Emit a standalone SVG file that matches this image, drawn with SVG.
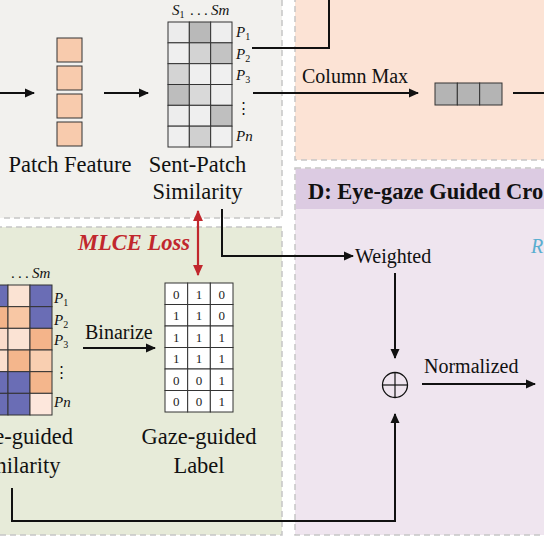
<svg xmlns="http://www.w3.org/2000/svg" width="544" height="544" viewBox="0 0 544 544">
<defs>
<style>
.panel{stroke:#c6c6c6;stroke-width:1.5;stroke-dasharray:6 4}
.t{font-family:"Liberation Serif","Times New Roman",serif;fill:#111}
.lbl{font-size:22.5px}
.sm{font-size:20px}
.it{font-style:italic}
.cell{stroke:#333;stroke-width:1}
.num{font-family:"Liberation Serif",serif;font-size:13px;fill:#222;text-anchor:middle}
.conn{fill:none;stroke:#111;stroke-width:2}
</style>
<marker id="ah" viewBox="0 0 10 10" refX="9" refY="5" markerWidth="5" markerHeight="5" orient="auto" markerUnits="strokeWidth">
<path d="M0,0.5 L10,5 L0,9.5 z" fill="#111"/>
</marker>
<marker id="rh" viewBox="0 0 10 10" refX="9" refY="5" markerWidth="5" markerHeight="5" orient="auto-start-reverse" markerUnits="strokeWidth">
<path d="M0,0.5 L10,5 L0,9.5 z" fill="#c1272d"/>
</marker>
</defs>
<rect width="544" height="544" fill="#ffffff"/>

<g id="panels">
<rect id="panel-a" class="panel" x="-4" y="-4" width="286" height="222" fill="#f2f1ee"/>
<rect id="panel-c" class="panel" x="295" y="-4" width="254" height="164" fill="#fce3d5"/>
<g id="panel-d">
<rect class="panel" x="295" y="168" width="254" height="367" fill="#efe5ef"/>
<rect x="296" y="169" width="250" height="40" fill="#dccbe2"/>
<text class="t" x="308" y="199" style="font-size:22.5px;font-weight:bold">D: Eye-gaze Guided Cro</text>
<text class="t it sm" x="531" y="253" style="fill:#5aaed0">R</text>
</g>
<rect id="panel-b" class="panel" x="-4" y="227" width="286" height="308" fill="#e7ebd9"/>
</g>

<g id="connectors">
<line class="conn" x1="0" y1="93" x2="34" y2="93" marker-end="url(#ah)"/>
<line class="conn" x1="104" y1="93" x2="148" y2="93" marker-end="url(#ah)"/>
<polyline class="conn" points="252,48 329,48 329,-2"/>
<line class="conn" x1="253" y1="93" x2="418" y2="93" marker-end="url(#ah)"/>
<line class="conn" x1="513" y1="93" x2="546" y2="93"/>
<polyline class="conn" points="222,209 222,256 353,256" marker-end="url(#ah)"/>
<line class="conn" x1="395" y1="273" x2="395" y2="358" marker-end="url(#ah)"/>
<polyline class="conn" points="12,488 12,521 395,521 395,414" marker-end="url(#ah)"/>
<line class="conn" x1="83" y1="348" x2="155" y2="348" marker-end="url(#ah)"/>
<line class="conn" x1="422" y1="384" x2="535" y2="384" marker-end="url(#ah)"/>
<line x1="198" y1="211" x2="198" y2="275" stroke="#c1272d" stroke-width="2.2" marker-start="url(#rh)" marker-end="url(#rh)"/>
<text class="t" x="190" y="250" text-anchor="end" style="font-size:22.5px;font-weight:bold;font-style:italic;fill:#c1272d">MLCE Loss</text>
<text class="t sm" x="302" y="83">Column Max</text>
<text class="t sm" x="355" y="263">Weighted</text>
<text class="t sm" x="424" y="373">Normalized</text>
<text class="t sm" x="85" y="339">Binarize</text>
</g>

<g id="patch-feature">
<rect class="cell" x="57" y="38" width="25" height="24" fill="#f8cbad" stroke-width="1.5"/>
<rect class="cell" x="57" y="66" width="25" height="24" fill="#f8cbad" stroke-width="1.5"/>
<rect class="cell" x="57" y="94" width="25" height="24" fill="#f8cbad" stroke-width="1.5"/>
<rect class="cell" x="57" y="122" width="25" height="24" fill="#f8cbad" stroke-width="1.5"/>
<text class="t lbl" x="70" y="172" text-anchor="middle">Patch Feature</text>
</g>

<g id="sent-patch-similarity">
<g class="cell">
<rect x="168" y="22" width="21.33" height="20.83" fill="#ececec"/>
<rect x="189.33" y="22" width="21.33" height="20.83" fill="#b9b9b9"/>
<rect x="210.67" y="22" width="21.33" height="20.83" fill="#eeeeee"/>
<rect x="168" y="42.83" width="21.33" height="20.83" fill="#efefef"/>
<rect x="189.33" y="42.83" width="21.33" height="20.83" fill="#d3d3d3"/>
<rect x="210.67" y="42.83" width="21.33" height="20.83" fill="#c3c3c3"/>
<rect x="168" y="63.67" width="21.33" height="20.83" fill="#d4d4d4"/>
<rect x="189.33" y="63.67" width="21.33" height="20.83" fill="#efefef"/>
<rect x="210.67" y="63.67" width="21.33" height="20.83" fill="#f0f0f0"/>
<rect x="168" y="84.5" width="21.33" height="20.83" fill="#bdbdbd"/>
<rect x="189.33" y="84.5" width="21.33" height="20.83" fill="#d9d9d9"/>
<rect x="210.67" y="84.5" width="21.33" height="20.83" fill="#eeeeee"/>
<rect x="168" y="105.33" width="21.33" height="20.83" fill="#ededed"/>
<rect x="189.33" y="105.33" width="21.33" height="20.83" fill="#efefef"/>
<rect x="210.67" y="105.33" width="21.33" height="20.83" fill="#bfbfbf"/>
<rect x="168" y="126.17" width="21.33" height="20.83" fill="#efefef"/>
<rect x="189.33" y="126.17" width="21.33" height="20.83" fill="#d0d0d0"/>
<rect x="210.67" y="126.17" width="21.33" height="20.83" fill="#f0f0f0"/>
</g>
<text class="t" y="15" style="font-size:15px"><tspan x="172" font-style="italic">S</tspan><tspan font-size="10" dy="3">1</tspan><tspan x="190" dy="-3">.</tspan><tspan x="197">.</tspan><tspan x="204">.</tspan><tspan x="211" font-style="italic">Sm</tspan></text>
<g class="t it" style="font-size:15px">
<text x="236" y="37">P<tspan font-size="10" font-style="normal" dy="3">1</tspan></text>
<text x="236" y="59">P<tspan font-size="10" font-style="normal" dy="3">2</tspan></text>
<text x="236" y="80">P<tspan font-size="10" font-style="normal" dy="3">3</tspan></text>
<text x="236" y="141">Pn</text>
</g>
<text class="t" x="243" y="113" text-anchor="middle" style="font-family:'DejaVu Serif',serif;font-size:15px">⋮</text>
<text class="t lbl" x="197.5" y="172" text-anchor="middle">Sent-Patch</text>
<text class="t lbl" x="197.5" y="199" text-anchor="middle">Similarity</text>
</g>

<g id="column-max">
<rect class="cell" x="435" y="83" width="22.33" height="22" fill="#b4b4b4" stroke="#555"/>
<rect class="cell" x="457.33" y="83" width="22.33" height="22" fill="#b4b4b4" stroke="#555"/>
<rect class="cell" x="479.67" y="83" width="22.33" height="22" fill="#b4b4b4" stroke="#555"/>
</g>

<g id="gaze-guided-similarity">
<g class="cell" stroke="#2a2a4a">
<rect x="-14" y="285" width="22" height="21.67" fill="#6a6db5"/>
<rect x="8" y="285" width="22" height="21.67" fill="#fbe3d3"/>
<rect x="30" y="285" width="22" height="21.67" fill="#6a6db5"/>
<rect x="-14" y="306.67" width="22" height="21.67" fill="#f3b48a"/>
<rect x="8" y="306.67" width="22" height="21.67" fill="#f8c7a4"/>
<rect x="30" y="306.67" width="22" height="21.67" fill="#6a6db5"/>
<rect x="-14" y="328.33" width="22" height="21.67" fill="#fbdccb"/>
<rect x="8" y="328.33" width="22" height="21.67" fill="#fbe3d4"/>
<rect x="30" y="328.33" width="22" height="21.67" fill="#f4b48a"/>
<rect x="-14" y="350" width="22" height="21.67" fill="#fbdfcd"/>
<rect x="8" y="350" width="22" height="21.67" fill="#f4b68c"/>
<rect x="30" y="350" width="22" height="21.67" fill="#f9cfb1"/>
<rect x="-14" y="371.67" width="22" height="21.67" fill="#6a6db5"/>
<rect x="8" y="371.67" width="22" height="21.67" fill="#6a6db5"/>
<rect x="30" y="371.67" width="22" height="21.67" fill="#f4b68c"/>
<rect x="-14" y="393.33" width="22" height="21.67" fill="#6a6db5"/>
<rect x="8" y="393.33" width="22" height="21.67" fill="#6a6db5"/>
<rect x="30" y="393.33" width="22" height="21.67" fill="#fde7dc"/>
</g>
<text class="t" y="278" style="font-size:15px"><tspan x="11">.</tspan><tspan x="18">.</tspan><tspan x="25">.</tspan><tspan x="32" font-style="italic">Sm</tspan></text>
<g class="t it" style="font-size:15px">
<text x="54" y="303">P<tspan font-size="10" font-style="normal" dy="3">1</tspan></text>
<text x="54" y="325">P<tspan font-size="10" font-style="normal" dy="3">2</tspan></text>
<text x="54" y="345">P<tspan font-size="10" font-style="normal" dy="3">3</tspan></text>
<text x="54" y="407">Pn</text>
</g>
<text class="t" x="61" y="377" text-anchor="middle" style="font-family:'DejaVu Serif',serif;font-size:15px">⋮</text>
<text class="t lbl" x="15.5" y="444" text-anchor="middle">Gaze-guided</text>
<text class="t lbl" x="15.5" y="473" text-anchor="middle">Similarity</text>
</g>

<g id="gaze-guided-label">
<g class="cell" fill="#ffffff">
<rect x="165" y="283" width="22.67" height="21.5"/>
<rect x="187.67" y="283" width="22.67" height="21.5"/>
<rect x="210.33" y="283" width="22.67" height="21.5"/>
<rect x="165" y="304.5" width="22.67" height="21.5"/>
<rect x="187.67" y="304.5" width="22.67" height="21.5"/>
<rect x="210.33" y="304.5" width="22.67" height="21.5"/>
<rect x="165" y="326" width="22.67" height="21.5"/>
<rect x="187.67" y="326" width="22.67" height="21.5"/>
<rect x="210.33" y="326" width="22.67" height="21.5"/>
<rect x="165" y="347.5" width="22.67" height="21.5"/>
<rect x="187.67" y="347.5" width="22.67" height="21.5"/>
<rect x="210.33" y="347.5" width="22.67" height="21.5"/>
<rect x="165" y="369" width="22.67" height="21.5"/>
<rect x="187.67" y="369" width="22.67" height="21.5"/>
<rect x="210.33" y="369" width="22.67" height="21.5"/>
<rect x="165" y="390.5" width="22.67" height="21.5"/>
<rect x="187.67" y="390.5" width="22.67" height="21.5"/>
<rect x="210.33" y="390.5" width="22.67" height="21.5"/>
</g>
<g class="num">
<text x="176.3" y="298.5">0</text><text x="199" y="298.5">1</text><text x="221.7" y="298.5">0</text>
<text x="176.3" y="320">1</text><text x="199" y="320">1</text><text x="221.7" y="320">0</text>
<text x="176.3" y="341.5">1</text><text x="199" y="341.5">1</text><text x="221.7" y="341.5">1</text>
<text x="176.3" y="363">1</text><text x="199" y="363">1</text><text x="221.7" y="363">1</text>
<text x="176.3" y="384.5">0</text><text x="199" y="384.5">0</text><text x="221.7" y="384.5">1</text>
<text x="176.3" y="406">0</text><text x="199" y="406">0</text><text x="221.7" y="406">1</text>
</g>
<text class="t lbl" x="199" y="444" text-anchor="middle">Gaze-guided</text>
<text class="t lbl" x="199" y="473" text-anchor="middle">Label</text>
</g>

<g id="sum-node">
<circle cx="395" cy="385" r="12.5" fill="none" stroke="#111" stroke-width="1.3"/>
<line x1="382.5" y1="385" x2="407.5" y2="385" stroke="#111" stroke-width="1.2"/>
<line x1="395" y1="372.5" x2="395" y2="397.5" stroke="#111" stroke-width="1.2"/>
</g>
</svg>
